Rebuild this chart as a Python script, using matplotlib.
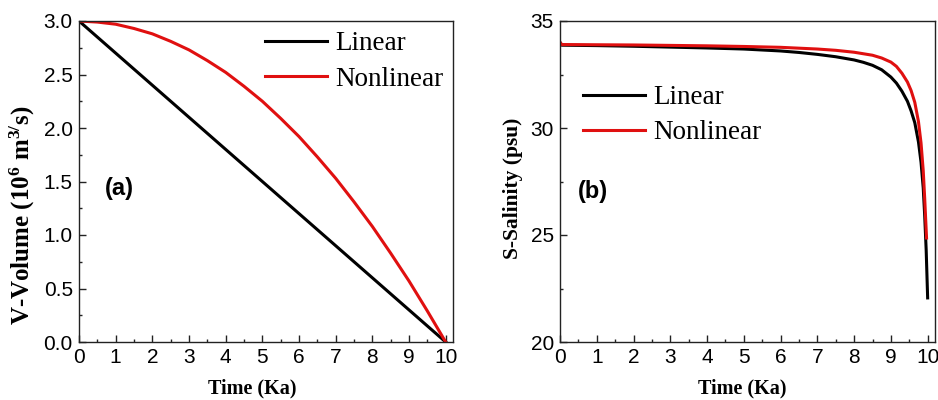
import numpy as np
import matplotlib
matplotlib.use("Agg")
import matplotlib.pyplot as plt
from matplotlib.ticker import MultipleLocator

# panel (a): volume vs time
time_v = [0, 0.5, 1, 1.5, 2, 2.5, 3, 3.5, 4, 4.5, 5, 5.5, 6, 6.5, 7, 7.5, 8, 8.5, 9, 9.5, 10]
vol_linear = [3.00, 2.85, 2.70, 2.55, 2.40, 2.25, 2.10, 1.95, 1.80, 1.65, 1.50,
              1.35, 1.20, 1.05, 0.90, 0.75, 0.60, 0.45, 0.30, 0.15, 0.00]
vol_nonlinear = [3.00, 2.99, 2.97, 2.93, 2.88, 2.81, 2.73, 2.63, 2.52, 2.39, 2.25,
                 2.09, 1.92, 1.73, 1.53, 1.31, 1.08, 0.83, 0.57, 0.29, 0.00]

# panel (b): salinity vs time
time_s_lin = [0, 0.05, 1, 2, 3, 4, 5, 6, 6.5, 7, 7.5, 8, 8.25, 8.5, 8.75, 9, 9.15,
              9.3, 9.45, 9.55, 9.65, 9.75, 9.82, 9.88, 9.92, 9.96, 10.0]
sal_linear = [34.00, 33.87, 33.85, 33.82, 33.78, 33.74, 33.69, 33.60, 33.53, 33.44,
              33.33, 33.18, 33.07, 32.93, 32.72, 32.38, 32.10, 31.72, 31.25, 30.80,
              30.25, 29.35, 28.40, 27.20, 25.90, 24.30, 22.06]
time_s_non = [0, 0.05, 1, 2, 3, 4, 5, 6, 7, 7.5, 8, 8.5, 8.75, 9, 9.15, 9.3, 9.45,
              9.55, 9.65, 9.75, 9.82, 9.88, 9.92, 9.97]
sal_nonlinear = [34.00, 33.90, 33.89, 33.88, 33.86, 33.84, 33.81, 33.77, 33.69, 33.63,
                 33.54, 33.40, 33.27, 33.08, 32.88, 32.56, 32.15, 31.75, 31.20, 30.30,
                 29.30, 28.00, 26.70, 24.86]

xticks = [0, 1, 2, 3, 4, 5, 6, 7, 8, 9, 10]

RED = "#e01010"
SANS = "Liberation Sans"
SERIF = "Liberation Serif"

plt.rcParams["mathtext.default"] = "regular"

fig = plt.figure(figsize=(9.38, 4.0), dpi=100)
ax1 = fig.add_axes([79 / 938, 1 - 342 / 400, 374 / 938, 321 / 400])
ax2 = fig.add_axes([560 / 938, 1 - 342 / 400, 375 / 938, 321 / 400])


def style_axes(ax):
    for s in ax.spines.values():
        s.set_linewidth(1.0)
        s.set_color("#222222")
    ax.tick_params(which="both", direction="in", top=False, right=False,
                   labelsize=15, pad=4.5, width=1.0, color="#222222")
    ax.tick_params(which="major", length=5)
    ax.tick_params(which="minor", length=2.5)
    for lbl in ax.get_xticklabels() + ax.get_yticklabels():
        lbl.set_fontfamily(SANS)
    ax.set_xlim(0, 10.2)
    ax.set_xticks(xticks)
    ax.xaxis.set_minor_locator(MultipleLocator(0.5))


legend_kw = dict(loc="upper left", frameon=False, prop={"family": SERIF, "size": 19.5},
                 handlelength=2.3, handletextpad=0.3, labelspacing=0.38,
                 borderpad=0, borderaxespad=0)

# ---- (a)
ax1.plot(time_v, vol_linear, color="black", lw=2.2, label="Linear")
ax1.plot(time_v, vol_nonlinear, color=RED, lw=2.2, label="Nonlinear")
ax1.set_ylim(0, 3.0)
ax1.set_yticks([0, 0.5, 1.0, 1.5, 2.0, 2.5, 3.0])
ax1.yaxis.set_minor_locator(MultipleLocator(0.25))
ax1.set_yticklabels(["0.0", "0.5", "1.0", "1.5", "2.0", "2.5", "3.0"])
style_axes(ax1)
ax1.set_xlabel("Time (Ka)", fontfamily=SERIF, fontweight="bold", fontsize=14.5)
ax1.set_ylabel(r"V-Volume (10$^{6}$ m$^{3/}$s)", fontfamily=SERIF,
               fontweight="bold", fontsize=18)
ax1.xaxis.set_label_coords(0.463, -0.115)
ax1.yaxis.set_label_coords(-0.112, 0.396)
ax1.text(0.107, 0.477, "(a)", transform=ax1.transAxes, fontfamily=SANS,
         fontweight="bold", fontsize=17, ha="center", va="center")
ax1.legend(bbox_to_anchor=(0.497, 0.968), **legend_kw)

# ---- (b)
ax2.plot(time_s_lin, sal_linear, color="black", lw=2.2, label="Linear")
ax2.plot(time_s_non, sal_nonlinear, color=RED, lw=2.2, label="Nonlinear")
ax2.set_ylim(20, 35)
ax2.set_yticks([20, 25, 30, 35])
ax2.yaxis.set_minor_locator(MultipleLocator(2.5))
style_axes(ax2)
ax2.set_xlabel("Time (Ka)", fontfamily=SERIF, fontweight="bold", fontsize=14.5)
ax2.set_ylabel("S-Salinity (psu)", fontfamily=SERIF, fontweight="bold", fontsize=15.5)
ax2.xaxis.set_label_coords(0.487, -0.115)
ax2.yaxis.set_label_coords(-0.099, 0.48)
ax2.text(0.089, 0.47, "(b)", transform=ax2.transAxes, fontfamily=SANS,
         fontweight="bold", fontsize=17, ha="center", va="center")
ax2.legend(bbox_to_anchor=(0.061, 0.80), **legend_kw)

plt.savefig("out.png", dpi=100)
